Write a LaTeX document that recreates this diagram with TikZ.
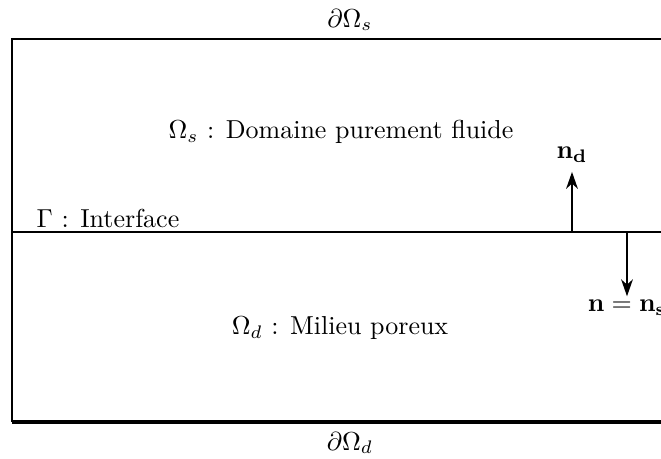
\documentclass[tikz,border=0pt]{standalone}
\usepackage{amsmath}
\usetikzlibrary{arrows.meta}
\begin{document}
\begin{tikzpicture}[x=0.01353cm, y=-0.01353cm, every node/.style={scale=1}]
        \useasboundingbox (0,0) rectangle (661,459);
        % domaine
        \coordinate (hg) at (12,39);
        \coordinate (bg) at (12,422);
        \coordinate (hd) at (680,39);
        \coordinate (bd) at (680,422);
        \coordinate (ig) at (12,232);
        \coordinate (id) at (680,232);
        \draw[color = black, thick] (bg) -- (hg) -- (hd);
        \draw[color = black, ultra thick] (bg) -- (bd);
        \draw[color = black, semithick] (ig) -- (id);
        % normales
        \coordinate (pd) at (572,232);
        \coordinate (ps) at (627,232);
        \node (nd) at (572,155) {$\mathbf{n_d}$};
        \node (ns) at (627,308) {$\mathbf{n = n_s}$};
        \draw[color = black, thick, -{Stealth[length=6.5pt,width=4.5pt,inset=2pt]}] (pd) -- (nd.south);
        \draw[color = black, thick, -{Stealth[length=6.5pt,width=4.5pt,inset=2pt]}, shorten >=-2pt] (ps) -- (ns.north);
        % textes
        \node (bords) at (350,20) {$\partial\Omega_s$};
        \node (bordd) at (350,443) {$\partial\Omega_d$};
        \node (omegas) at (341,132) {$\Omega_s$ : Domaine purement fluide};
        \node (omegad) at (340,328) {$\Omega_d$ : Milieu poreux};
        \node (gamma) at (108,218) {$\Gamma$ : Interface};
\end{tikzpicture}
\end{document}
